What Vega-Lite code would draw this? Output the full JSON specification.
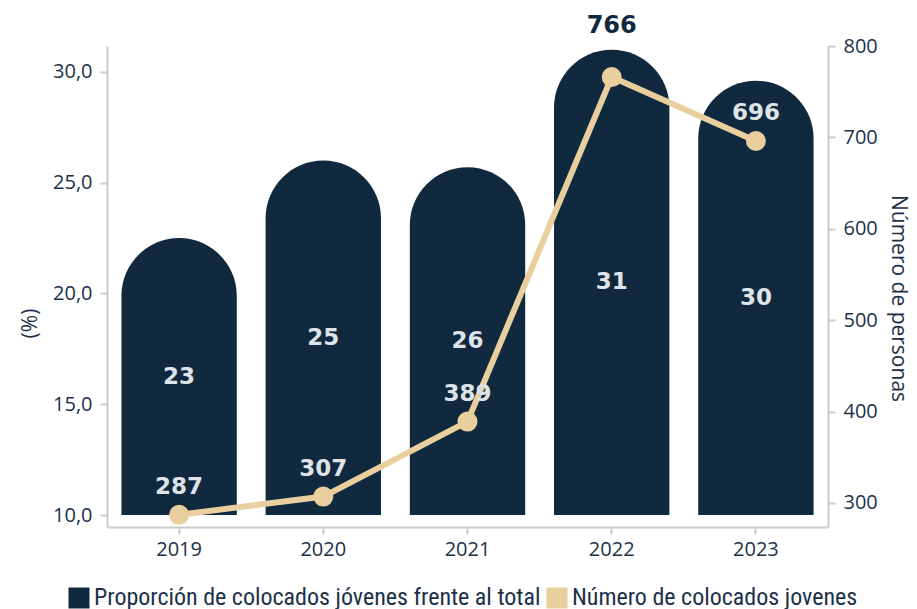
{
  "$schema": "https://vega.github.io/schema/vega-lite/v6.json",
  "width": 721,
  "height": 481,
  "autosize": {"type": "none"},
  "padding": {"left": 107, "top": 46, "right": 89, "bottom": 82},
  "background": "white",
  "data": {
    "values": [
      {"anio": "2019", "proporcion": 22.5, "etiqueta": "23", "colocados": 287},
      {"anio": "2020", "proporcion": 26.0, "etiqueta": "25", "colocados": 307},
      {"anio": "2021", "proporcion": 25.7, "etiqueta": "26", "colocados": 389},
      {"anio": "2022", "proporcion": 31.0, "etiqueta": "31", "colocados": 766},
      {"anio": "2023", "proporcion": 29.6, "etiqueta": "30", "colocados": 696}
    ]
  },
  "encoding": {
    "x": {
      "field": "anio",
      "type": "ordinal",
      "scale": {"paddingInner": 0.2, "paddingOuter": 0.1},
      "axis": {"title": null, "labelAngle": 0, "labelPadding": 5}
    }
  },
  "layer": [
    {
      "layer": [
        {
          "mark": {"type": "bar", "cornerRadiusTopLeft": 58, "cornerRadiusTopRight": 58},
          "encoding": {
            "y": {
              "field": "proporcion",
              "type": "quantitative",
              "scale": {"domain": [9.46, 31.17], "nice": false, "zero": false},
              "axis": {
                "title": "(%)",
                "values": [10, 15, 20, 25, 30],
                "labelExpr": "replace(format(datum.value, '.1f'), '.', ',')",
                "titlePadding": 12,
                "titleY": 277,
                "labelPadding": 8
              }
            },
            "y2": {"datum": 10},
            "color": {
              "datum": "Proporción de colocados jóvenes frente al total",
              "scale": {
                "domain": ["Proporción de colocados jóvenes frente al total", "Número de colocados jovenes"],
                "range": ["#10293f", "#e8cf9d"]
              },
              "legend": {
                "title": null,
                "orient": "none",
                "legendX": -40,
                "legendY": 540,
                "direction": "horizontal",
                "columns": 2,
                "columnPadding": 4,
                "symbolType": "square",
                "symbolSize": 441,
                "symbolStrokeWidth": 0,
                "symbolOpacity": 1,
                "labelOffset": 3,
                "labelLimit": 600,
                "labelFont": "Liberation Sans Narrow, Roboto Condensed, Roboto",
                "labelFontSize": 24,
                "labelColor": "#1b3149"
              }
            }
          }
        },
        {
          "transform": [{"calculate": "(datum.proporcion + 10) / 2", "as": "medio"}],
          "mark": {"type": "text", "font": "DejaVu Sans", "fontWeight": "bold", "fontSize": 23, "color": "#dfe3e8", "baseline": "middle"},
          "encoding": {
            "y": {"field": "medio", "type": "quantitative"},
            "text": {"field": "etiqueta"}
          }
        }
      ]
    },
    {
      "layer": [
        {
          "mark": {"type": "line", "strokeWidth": 6},
          "encoding": {
            "y": {
              "field": "colocados",
              "type": "quantitative",
              "scale": {"domain": [273.7, 800], "nice": false, "zero": false},
              "axis": {
                "title": "Número de personas",
                "values": [300, 400, 500, 600, 700, 800],
                "titlePadding": 10,
                "titleY": 252,
                "labelPadding": 8
              }
            },
            "color": {"datum": "Número de colocados jovenes"}
          }
        },
        {
          "mark": {"type": "point", "filled": true, "size": 400, "opacity": 1, "color": "#e8cf9d"},
          "encoding": {"y": {"field": "colocados", "type": "quantitative"}}
        },
        {
          "transform": [{"filter": "datum.anio != '2022'"}],
          "mark": {"type": "text", "font": "DejaVu Sans", "fontWeight": "bold", "fontSize": 23, "color": "#dfe3e8", "baseline": "middle", "dy": -28},
          "encoding": {
            "y": {"field": "colocados", "type": "quantitative"},
            "text": {"field": "colocados", "type": "quantitative"}
          }
        },
        {
          "transform": [{"filter": "datum.anio == '2022'"}],
          "mark": {"type": "text", "font": "DejaVu Sans", "fontWeight": "bold", "fontSize": 24, "color": "#10293f", "baseline": "middle", "dy": -51},
          "encoding": {
            "y": {"field": "colocados", "type": "quantitative"},
            "text": {"field": "colocados", "type": "quantitative"}
          }
        }
      ]
    }
  ],
  "resolve": {"scale": {"y": "independent"}},
  "config": {
    "view": {"stroke": null},
    "axis": {
      "grid": false,
      "domainColor": "#cccccc",
      "domainWidth": 2,
      "tickColor": "#cccccc",
      "tickWidth": 2,
      "tickSize": 7,
      "labelColor": "#1b3149",
      "labelFont": "Open Sans",
      "labelFontSize": 20,
      "titleFont": "Open Sans",
      "titleFontSize": 21,
      "titleFontWeight": "normal",
      "titleColor": "#1b3149"
    }
  }
}
